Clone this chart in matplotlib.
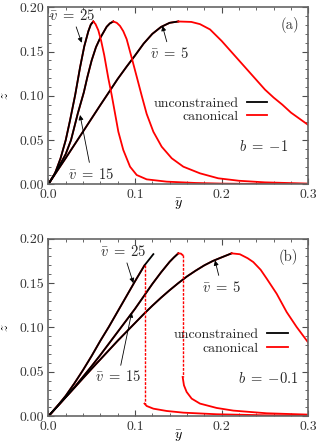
import numpy as np
import matplotlib
matplotlib.use('Agg')
import matplotlib.pyplot as plt
from matplotlib.ticker import AutoMinorLocator, FormatStrFormatter, MultipleLocator

plt.rcParams['font.family'] = 'serif'
plt.rcParams['font.serif'] = ['cmr10', 'DejaVu Serif']
plt.rcParams['mathtext.fontset'] = 'cm'
plt.rcParams['axes.formatter.use_mathtext'] = True
plt.rcParams['font.size'] = 10

# ---- panel (a), b = -1 : unconstrained (rising) and canonical (falling) parts
a_y25_unc = [0, 0.0077, 0.014, 0.0201, 0.025, 0.031, 0.0366, 0.0415, 0.0462, 0.049, 0.0519]
a_z25_unc = [0, 0.0124, 0.029, 0.050, 0.072, 0.101, 0.132, 0.156, 0.173, 0.1805, 0.184]
a_y25_can = [0.0519, 0.0545, 0.0577, 0.061, 0.0645, 0.0692, 0.0731, 0.077, 0.0808, 0.0865,
             0.0943, 0.102, 0.1135, 0.1366, 0.17, 0.2, 0.25, 0.3]
a_z25_can = [0.184, 0.181, 0.174, 0.162, 0.146, 0.120, 0.101, 0.080, 0.0594, 0.0388,
             0.0199, 0.0105, 0.0056, 0.003, 0.0015, 0.0008, 0.0003, 0.0001]

a_y15_unc = [0, 0.0077, 0.015, 0.02, 0.0262, 0.034, 0.041, 0.045, 0.050, 0.055, 0.0597, 0.0673, 0.071, 0.075]
a_z15_unc = [0, 0.0124, 0.025, 0.034, 0.050, 0.080, 0.104, 0.121, 0.140, 0.155, 0.165, 0.178, 0.1818, 0.184]
a_y15_can = [0.075, 0.079, 0.0827, 0.0865, 0.0904, 0.0962, 0.102, 0.1078, 0.1135, 0.1212, 0.1308,
             0.1424, 0.1558, 0.175, 0.196, 0.22, 0.25, 0.3]
a_z15_can = [0.184, 0.1825, 0.179, 0.173, 0.164, 0.143, 0.1216, 0.100, 0.0795, 0.0594, 0.0425,
             0.0294, 0.0199, 0.0124, 0.0068, 0.004, 0.0022, 0.0008]

a_y5_unc = [0, 0.01, 0.02, 0.03, 0.04, 0.05, 0.06, 0.07, 0.08, 0.09, 0.1, 0.11, 0.12, 0.13, 0.14, 0.15]
a_z5_unc = [0, 0.0148, 0.0295, 0.0445, 0.0595, 0.0745, 0.0895, 0.1042, 0.119, 0.1325, 0.1455,
            0.159, 0.170, 0.1778, 0.1825, 0.184]
a_y5_can = [0.15, 0.165, 0.175, 0.1866, 0.2, 0.21, 0.22, 0.23, 0.24, 0.25, 0.26, 0.27, 0.28, 0.29, 0.3]
a_z5_can = [0.184, 0.1835, 0.181, 0.175, 0.162, 0.151, 0.140, 0.129, 0.118, 0.107, 0.098, 0.090,
            0.081, 0.074, 0.067]

# ---- panel (b), b = -0.1
b_y25_unc = [0, 0.01, 0.02, 0.03, 0.04, 0.05, 0.06, 0.07, 0.08, 0.09, 0.1, 0.111, 0.1212]
b_z25_unc = [0, 0.011, 0.023, 0.037, 0.052, 0.068, 0.085, 0.101, 0.118, 0.135, 0.152, 0.170, 0.1826]
b_y25_jump = [0.111, 0.111]
b_z25_jump = [0.170, 0.0143]
b_y25_can = [0.111, 0.1135, 0.1212, 0.1365, 0.1558, 0.1942, 0.2519, 0.3]
b_z25_can = [0.0143, 0.0116, 0.0086, 0.006, 0.0041, 0.0023, 0.0011, 0.0008]

b_y15_unc = [0, 0.01, 0.02, 0.03, 0.04, 0.05, 0.06, 0.07, 0.08, 0.09, 0.1, 0.11, 0.12, 0.13, 0.14, 0.145, 0.15]
b_z15_unc = [0, 0.0107, 0.0215, 0.0325, 0.0445, 0.0565, 0.069, 0.082, 0.095, 0.108, 0.121, 0.135, 0.149,
             0.162, 0.174, 0.179, 0.1835]
b_y15_top = [0.15, 0.153, 0.155]
b_z15_top = [0.1835, 0.1832, 0.1815]
b_y15_jump = [0.155, 0.155]
b_z15_jump = [0.1815, 0.0443]
b_y15_can = [0.155, 0.1565, 0.1596, 0.1654, 0.175, 0.1942, 0.2135, 0.2519, 0.3]
b_z15_can = [0.0443, 0.0349, 0.0274, 0.0199, 0.0143, 0.0094, 0.0064, 0.0034, 0.0019]

b_y5_unc = [0, 0.01, 0.02, 0.03, 0.04, 0.05, 0.06, 0.07, 0.08, 0.09, 0.1, 0.11, 0.12, 0.13, 0.14,
            0.15, 0.16, 0.17, 0.18, 0.19, 0.2, 0.2115]
b_z5_unc = [0, 0.0107, 0.0214, 0.032, 0.0428, 0.0535, 0.064, 0.0745, 0.085, 0.095, 0.105, 0.115,
            0.1245, 0.1335, 0.142, 0.150, 0.1575, 0.164, 0.170, 0.175, 0.179, 0.1835]
b_y5_can = [0.2115, 0.221, 0.23, 0.2365, 0.245, 0.252, 0.2635, 0.275, 0.2865, 0.3]
b_z5_can = [0.1835, 0.1825, 0.178, 0.1737, 0.165, 0.155, 0.138, 0.1174, 0.1006, 0.0829]

lw = 1.3
fs_ann = 10.5


def style_axes(ax):
    ax.set_xlim(0, 0.3)
    ax.set_ylim(0, 0.2)
    ax.xaxis.set_major_locator(MultipleLocator(0.1))
    ax.yaxis.set_major_locator(MultipleLocator(0.05))
    ax.xaxis.set_minor_locator(AutoMinorLocator(5))
    ax.yaxis.set_minor_locator(AutoMinorLocator(5))
    ax.xaxis.set_major_formatter(FormatStrFormatter('%.1f'))
    ax.yaxis.set_major_formatter(FormatStrFormatter('%.2f'))
    ax.tick_params(which='both', direction='in', top=True, right=True, colors='0.3',
                   labelcolor='0.2', labelsize=10)
    ax.tick_params(which='major', length=4, width=0.8, pad=3)
    ax.tick_params(which='minor', length=2, width=0.6)
    for s in ax.spines.values():
        s.set_color('0.4')
        s.set_linewidth(1.2)
    ax.set_xlabel(r'$\bar{y}$', labelpad=-3)
    ax.set_ylabel(r'$z$', labelpad=6)


fig = plt.figure(figsize=(3.16, 4.44), dpi=100)
axa = fig.add_axes([0.1529, 0.5849, 0.8228, 0.3986])
axb = fig.add_axes([0.1529, 0.0624, 0.8228, 0.40])

# panel (a)
for yu, zu in [(a_y25_unc, a_z25_unc), (a_y15_unc, a_z15_unc), (a_y5_unc, a_z5_unc)]:
    axa.plot(yu, zu, color='red', lw=lw)
axa.plot(a_y25_unc, a_z25_unc, color='black', lw=lw, label='unconstrained')
axa.plot(a_y15_unc, a_z15_unc, color='black', lw=lw)
axa.plot(a_y5_unc, a_z5_unc, color='black', lw=lw)
axa.plot(a_y25_can, a_z25_can, color='red', lw=lw, label='canonical')
axa.plot(a_y15_can, a_z15_can, color='red', lw=lw)
axa.plot(a_y5_can, a_z5_can, color='red', lw=lw)

# panel (b)
axb.plot(b_y25_unc[:-1], b_z25_unc[:-1], color='red', lw=lw)
axb.plot(b_y15_unc, b_z15_unc, color='red', lw=lw)
axb.plot(b_y5_unc, b_z5_unc, color='red', lw=lw)
axb.plot(b_y25_unc, b_z25_unc, color='black', lw=lw, label='unconstrained')
axb.plot(b_y15_unc, b_z15_unc, color='black', lw=lw)
axb.plot(b_y5_unc, b_z5_unc, color='black', lw=lw)
axb.plot(b_y15_top, b_z15_top, color='red', lw=lw, label='canonical')
axb.plot(b_y25_jump, b_z25_jump, color='red', lw=1.0, ls=(0, (2, 1)))
axb.plot(b_y15_jump, b_z15_jump, color='red', lw=1.0, ls=(0, (2, 1)))
axb.plot(b_y25_can, b_z25_can, color='red', lw=lw)
axb.plot(b_y15_can, b_z15_can, color='red', lw=lw)
axb.plot(b_y5_can, b_z5_can, color='red', lw=lw)

arrow = dict(arrowstyle='-|>', color='black', lw=0.6, mutation_scale=7, shrinkA=1, shrinkB=0)

axa.annotate(r'$\bar{v}\;=\;25$', xy=(0.0385, 0.160), xytext=(0.0275, 0.191),
             ha='center', va='center', arrowprops=arrow, color='0.15', fontsize=fs_ann)
axa.annotate(r'$\bar{v}\;=\;5$', xy=(0.1316, 0.179), xytext=(0.1404, 0.148),
             ha='center', va='center', arrowprops=arrow, color='0.15', fontsize=fs_ann)
axa.annotate(r'$\bar{v}\;=\;15$', xy=(0.0366, 0.0783), xytext=(0.050, 0.0116),
             ha='center', va='center', arrowprops=arrow, color='0.15', fontsize=fs_ann)
axa.text(0.93, 0.90, '(a)', transform=axa.transAxes, ha='center', va='center', color='0.2',
         fontsize=fs_ann)
axa.text(0.827, 0.212, r'$b\;=\;{-1}$', transform=axa.transAxes, ha='center', va='center',
         color='0.15', fontsize=fs_ann)

axb.annotate(r'$\bar{v}\;=\;25$', xy=(0.0981, 0.150), xytext=(0.0865, 0.1858),
             ha='center', va='center', arrowprops=arrow, color='0.15', fontsize=fs_ann)
axb.annotate(r'$\bar{v}\;=\;5$', xy=(0.1923, 0.1755), xytext=(0.200, 0.1456),
             ha='center', va='center', arrowprops=arrow, color='0.15', fontsize=fs_ann)
axb.annotate(r'$\bar{v}\;=\;15$', xy=(0.0962, 0.117), xytext=(0.0808, 0.0443),
             ha='center', va='center', arrowprops=arrow, color='0.15', fontsize=fs_ann)
axb.text(0.923, 0.897, '(b)', transform=axb.transAxes, ha='center', va='center', color='0.2',
         fontsize=fs_ann)
axb.text(0.846, 0.212, r'$b\;=\;{-0.1}$', transform=axb.transAxes, ha='center', va='center',
         color='0.15', fontsize=fs_ann)

for ax, xr in [(axa, 0.875), (axb, 0.955)]:
    style_axes(ax)
    leg = ax.legend(loc='center right', bbox_to_anchor=(xr, 0.42), frameon=False,
                    markerfirst=False, handlelength=1.5, handletextpad=0.6,
                    labelspacing=0.05, borderpad=0.1, fontsize=10)
    for t in leg.get_texts():
        t.set_color('0.15')

fig.savefig('out.png', dpi=100)
